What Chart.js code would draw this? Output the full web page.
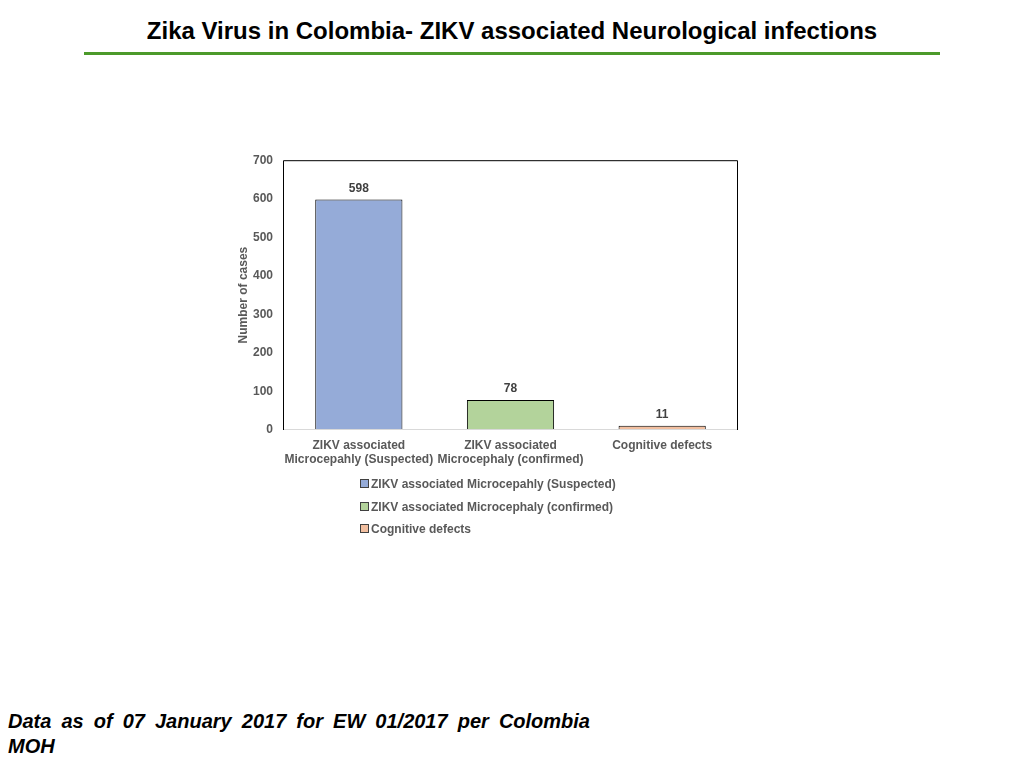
<!DOCTYPE html>
<html>
<head>
<meta charset="utf-8">
<script src="https://cdn.jsdelivr.net/npm/chart.js@4"></script>
<style>
  html, body { margin: 0; padding: 0; background: #fff; width: 1024px; height: 768px; overflow: hidden; font-family: "Liberation Sans", Arial, sans-serif; }
  #title { position: absolute; left: 0; top: 17px; width: 1024px; text-align: center; font-weight: bold; font-size: 24px; color: #000; }
  #rule { position: absolute; left: 84px; top: 52px; width: 856px; height: 3px; background: #4C9A2A; }
  #wrap { position: absolute; left: 230px; top: 143px; width: 520px; height: 337px; }
  #legend { position: absolute; left: 360px; top: 477px; font-weight: bold; font-size: 12px; color: #595959; }
  #legend div { height: 22.5px; line-height: 15px; white-space: nowrap; }
  #legend span.box { display: inline-block; width: 7px; height: 7px; border: 1px solid #404040; margin-right: 2px; vertical-align: 0px; }
  #foot { position: absolute; left: 8px; top: 709px; width: 582px; font-weight: bold; font-style: italic; font-size: 20px; line-height: 25px; color: #000; }
  #foot .l1 { text-align: justify; text-align-last: justify; white-space: nowrap; }
</style>
</head>
<body>
<div id="title">Zika Virus in Colombia- ZIKV associated Neurological infections</div>
<div id="rule"></div>
<div id="wrap"><canvas id="c"></canvas></div>
<div id="legend"></div>
<div id="foot"><div class="l1">Data as of 07 January 2017 for EW 01/2017 per Colombia</div><div>MOH</div></div>
<script>
const categories = [
  ["ZIKV associated", "Microcepahly (Suspected)"],
  ["ZIKV associated", "Microcephaly (confirmed)"],
  ["Cognitive defects"]
];
const legendLabels = [
  "ZIKV associated Microcepahly (Suspected)",
  "ZIKV associated Microcephaly (confirmed)",
  "Cognitive defects"
];
const cases = [598, 78, 11];
const barColors = ["#95ABD8", "#B3D39B", "#F2BFA0"];
const yTicks = [0, 100, 200, 300, 400, 500, 600, 700];

const lg = document.getElementById('legend');
legendLabels.forEach((t, i) => {
  const d = document.createElement('div');
  const b = document.createElement('span');
  b.className = 'box';
  b.style.background = barColors[i];
  d.appendChild(b);
  d.appendChild(document.createTextNode(t));
  lg.appendChild(d);
});

const FONT = '"Liberation Sans", Arial, sans-serif';
const boxPlugin = {
  id: 'box',
  afterDraw(chart) {
    const a = chart.chartArea, ctx = chart.ctx;
    ctx.save();
    ctx.strokeStyle = '#000';
    ctx.lineWidth = 1;
    ctx.beginPath();
    ctx.moveTo(a.left + 0.5, a.bottom);
    ctx.lineTo(a.left + 0.5, a.top + 0.5);
    ctx.lineTo(a.right - 0.5, a.top + 0.5);
    ctx.lineTo(a.right - 0.5, a.bottom);
    ctx.stroke();
    ctx.strokeStyle = '#D9D9D9';
    ctx.beginPath();
    ctx.moveTo(a.left + 1, a.bottom - 0.5);
    ctx.lineTo(a.right - 1, a.bottom - 0.5);
    ctx.stroke();
    const meta = chart.getDatasetMeta(0);
    ctx.fillStyle = '#404040';
    ctx.font = 'bold 12px ' + FONT;
    ctx.textAlign = 'center';
    ctx.textBaseline = 'bottom';
    meta.data.forEach((bar, i) => {
      ctx.fillText(String(chart.data.datasets[0].data[i]), bar.x, bar.y - 5);
    });
    ctx.restore();
  }
};

new Chart(document.getElementById('c'), {
  type: 'bar',
  data: {
    labels: categories,
    datasets: [{
      data: cases,
      backgroundColor: barColors,
      borderColor: '#000',
      borderWidth: 1,
      borderSkipped: 'bottom',
      categoryPercentage: 1.0,
      barPercentage: 0.575
    }]
  },
  options: {
    responsive: true,
    maintainAspectRatio: false,
    animation: false,
    layout: { padding: { top: 3, right: 12, left: 0, bottom: 0 } },
    plugins: { legend: { display: false }, tooltip: { enabled: false } },
    scales: {
      x: {
        grid: { display: false, drawTicks: false },
        border: { display: false },
        ticks: { color: '#595959', font: { family: FONT, size: 12, weight: 'bold' }, padding: 8, maxRotation: 0, autoSkip: false },
        afterFit(s) { s.height = 50; }
      },
      y: {
        min: 0, max: 700,
        afterBuildTicks(s) { s.ticks = yTicks.map(v => ({ value: v })); },
        grid: { display: false, drawTicks: false },
        border: { display: false },
        ticks: { color: '#595959', font: { family: FONT, size: 12, weight: 'bold' }, padding: 10 },
        title: { display: true, text: 'Number of cases', color: '#595959', font: { family: FONT, size: 12, weight: 'bold' }, padding: { top: 6, bottom: 0 } },
        afterFit(s) { s.width = 53; }
      }
    }
  },
  plugins: [boxPlugin]
});
</script>
</body>
</html>
